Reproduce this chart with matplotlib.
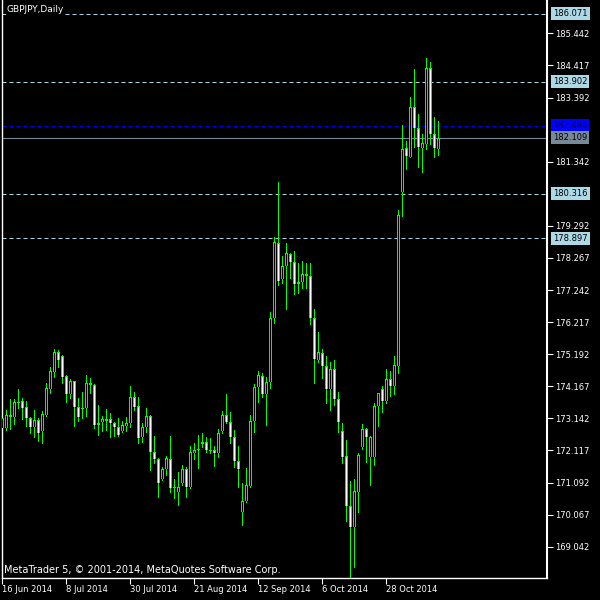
import matplotlib
matplotlib.use('Agg')
import matplotlib.pyplot as plt
import pandas as pd

# GBPJPY daily bars
opens = [172.83, 172.83, 173.25, 173.19, 173.66, 173.70, 173.50, 173.15, 172.87, 173.09,
         172.74, 173.25, 174.08, 174.62, 175.26, 175.13, 174.50, 173.92, 174.34, 173.50,
         173.47, 173.47, 174.27, 174.21, 172.93, 173.03, 173.12, 173.12, 172.99, 172.87,
         172.74, 172.90, 172.99, 173.82, 173.54, 172.55, 172.87, 173.22, 172.07, 171.84,
         171.20, 171.52, 171.84, 170.92, 170.79, 171.08, 171.52, 170.95, 172.04, 172.13,
         172.32, 172.39, 172.13, 172.13, 172.04, 172.74, 173.25, 173.03, 172.55, 171.78,
         170.15, 170.50, 170.98, 173.06, 174.14, 174.50, 173.92, 174.30, 176.35, 178.74,
         177.59, 178.01, 178.39, 178.14, 177.43, 177.50, 177.75, 177.69, 176.35, 175.01,
         175.23, 174.81, 174.08, 174.72, 173.76, 172.74, 171.94, 170.34, 169.67, 170.79,
         172.23, 172.80, 171.91, 171.91, 173.54, 174.08, 173.70, 174.40, 174.18, 174.81,
         180.37, 181.78, 181.49, 183.09, 182.42, 181.78, 181.91, 184.34, 182.23, 181.75]
highs = [173.28, 173.41, 173.76, 173.76, 174.08, 173.79, 173.70, 173.19, 173.41, 173.15,
         173.38, 174.27, 174.78, 175.36, 175.33, 175.17, 174.53, 174.40, 174.34, 173.79,
         173.98, 174.53, 174.43, 174.24, 173.57, 173.22, 173.44, 173.31, 173.03, 173.15,
         173.06, 173.19, 174.18, 173.98, 173.82, 172.99, 173.47, 173.25, 172.58, 171.88,
         171.59, 171.94, 172.58, 171.20, 171.43, 171.65, 171.59, 172.26, 172.35, 172.61,
         172.67, 172.55, 172.51, 172.26, 172.80, 173.38, 173.92, 173.35, 172.77, 172.26,
         171.08, 171.56, 173.25, 174.24, 174.66, 174.59, 174.46, 176.54, 178.94, 180.69,
         178.33, 178.74, 178.43, 178.49, 178.11, 178.17, 178.11, 178.11, 176.64, 175.90,
         175.36, 175.13, 174.94, 175.01, 173.98, 172.99, 172.45, 171.14, 171.20, 172.04,
         172.96, 172.83, 172.58, 173.63, 173.95, 174.18, 174.72, 174.66, 175.13, 179.80,
         182.51, 182.00, 183.41, 184.30, 182.87, 182.23, 184.66, 184.53, 182.77, 182.64]
lows = [172.74, 172.77, 172.80, 172.96, 173.47, 173.12, 172.90, 172.67, 172.55, 172.42,
        172.35, 173.22, 173.95, 174.46, 174.78, 174.27, 173.66, 173.79, 172.90, 173.06,
        173.15, 173.22, 173.95, 172.83, 172.61, 172.74, 172.77, 172.55, 172.58, 172.58,
        172.71, 172.74, 172.87, 173.41, 172.35, 172.39, 172.71, 171.49, 171.72, 170.63,
        171.17, 171.33, 170.79, 170.60, 170.37, 171.01, 170.63, 170.92, 171.84, 171.56,
        172.23, 172.07, 172.04, 171.62, 171.91, 172.67, 172.99, 172.35, 171.59, 170.95,
        169.73, 170.47, 170.95, 172.71, 173.66, 173.82, 172.93, 174.11, 176.19, 177.40,
        177.47, 176.64, 177.63, 177.12, 177.15, 177.31, 177.31, 176.16, 174.27, 174.94,
        174.43, 173.63, 173.41, 173.57, 172.71, 171.72, 169.86, 168.01, 168.39, 170.15,
        172.16, 171.75, 171.01, 171.65, 172.90, 173.35, 173.63, 173.86, 173.92, 174.59,
        179.61, 181.11, 181.49, 181.81, 181.17, 181.01, 181.75, 181.91, 181.49, 181.56]
closes = [173.15, 173.25, 173.19, 173.66, 173.63, 173.47, 173.15, 172.87, 173.09, 172.67,
          173.28, 174.11, 174.66, 175.26, 175.01, 174.46, 173.92, 174.34, 173.50, 173.19,
          173.44, 174.27, 174.21, 172.93, 172.99, 173.12, 173.06, 172.99, 172.87, 172.61,
          172.93, 172.99, 173.82, 173.50, 172.51, 172.87, 173.22, 172.07, 171.84, 171.08,
          171.52, 171.88, 170.92, 170.95, 170.95, 171.52, 170.95, 172.07, 172.13, 172.16,
          172.39, 172.13, 172.10, 172.04, 172.67, 173.25, 173.03, 172.55, 171.78, 171.52,
          170.50, 171.01, 173.06, 174.14, 174.53, 173.92, 174.30, 176.35, 178.78, 177.53,
          178.01, 178.43, 178.14, 177.43, 177.50, 177.75, 177.69, 176.35, 175.04, 175.26,
          174.81, 174.08, 174.72, 173.76, 173.03, 171.91, 170.34, 169.67, 170.82, 171.97,
          172.80, 172.55, 172.55, 173.54, 173.95, 173.70, 174.40, 174.18, 174.85, 179.64,
          181.75, 181.52, 183.09, 182.42, 181.81, 181.94, 184.34, 182.23, 181.78, 182.109]

level_prices = [186.071, 183.902, 180.316, 178.897]
ask_price = 182.484
bid_price = 182.109
price_ticks = [185.442, 184.417, 183.392, 181.342, 179.292, 178.267, 177.242, 176.217,
               175.192, 174.167, 173.142, 172.117, 171.092, 170.067, 169.042]
date_tick_step = 16

GREEN = '#00ff00'
LEVEL = '#add8e6'

dates = pd.bdate_range('2014-06-16', periods=len(opens))
xs = list(range(len(opens)))

fig = plt.figure(figsize=(6, 6), dpi=100, facecolor='black')
ax = fig.add_axes([2 / 600, 22 / 600, 545 / 600, 578 / 600])
ax.set_facecolor('black')
ax.set_xlim(-0.08, 136.17)
ax.set_ylim(168.041, 186.508)

# size of one screen pixel in price units, for the 1px candle outline
ymin, ymax = ax.get_ylim()
px = (ymax - ymin) / ax.get_window_extent().height

# level lines
for p in level_prices:
    ax.axhline(p, color=LEVEL, lw=0.72, ls=(0, (4, 3)), zorder=1)
ax.axhline(ask_price, color='#0000ff', lw=0.72, ls=(0, (4, 3)), zorder=1)
ax.axhline(bid_price, color='#778899', lw=0.8, zorder=1)

# candles: bull = black body, bear = white body, green outline
ax.vlines(xs, lows, highs, color=GREEN, lw=0.72, zorder=2, antialiased=False)
body_lo = [min(o, c) for o, c in zip(opens, closes)]
body_hi = [max(o, c) for o, c in zip(opens, closes)]
heights = [max(h - l, px) for l, h in zip(body_lo, body_hi)]
ax.bar(xs, heights, bottom=body_lo, width=0.75, color=GREEN, linewidth=0,
       zorder=3, antialiased=False)
inner = [i for i in xs if body_hi[i] - body_lo[i] > 2.5 * px]
ax.vlines(inner, [body_lo[i] + px for i in inner], [body_hi[i] - px for i in inner],
          colors=['black' if closes[i] >= opens[i] else 'white' for i in inner],
          lw=0.72, zorder=4, antialiased=False)

# axes styling
for side in ['left', 'bottom']:
    ax.spines[side].set_color('white')
    ax.spines[side].set_linewidth(1)
ax.spines['right'].set_color('white')
ax.spines['right'].set_linewidth(1.5)
ax.spines['top'].set_visible(False)

ax.yaxis.tick_right()
ax.set_yticks(price_ticks)
ax.set_yticklabels([f'{p:.3f}' for p in price_ticks])
ax.tick_params(axis='y', colors='white', direction='out', length=4, width=0.8,
               labelsize=6, pad=2)

tick_idx = xs[::date_tick_step]
ax.set_xticks(tick_idx)
ax.set_xticklabels([f"{dates[i].day} {dates[i].strftime('%b %Y')}" for i in tick_idx])
for lbl in ax.get_xticklabels():
    lbl.set_horizontalalignment('left')
ax.tick_params(axis='x', colors='white', direction='out', length=4, width=0.8,
               labelsize=6, pad=1)

# price boxes on the right
for p in level_prices:
    ax.annotate(f'{p:.3f}', xy=(1, p), xycoords=('axes fraction', 'data'),
                xytext=(6, 0), textcoords='offset pixels', ha='left', va='center',
                fontsize=6, color='black', annotation_clip=False,
                bbox=dict(boxstyle='square,pad=0.25', fc=LEVEL, ec='none'))
ax.annotate(f'{ask_price:.3f}', xy=(1, ask_price), xycoords=('axes fraction', 'data'),
            xytext=(6, 0), textcoords='offset pixels', ha='left', va='center',
            fontsize=6, color='#000060', annotation_clip=False,
            bbox=dict(boxstyle='square,pad=0.25', fc='#0000ff', ec='none'))
ax.annotate(f'{bid_price:.3f}', xy=(1, bid_price), xycoords=('axes fraction', 'data'),
            xytext=(6, 0), textcoords='offset pixels', ha='left', va='center',
            fontsize=6, color='black', annotation_clip=False,
            bbox=dict(boxstyle='square,pad=0.25', fc='#778899', ec='none'))

ax.text(0.009, 0.991, 'GBPJPY,Daily', transform=ax.transAxes, color='white',
        fontsize=6.5, ha='left', va='top', zorder=5,
        bbox=dict(boxstyle='square,pad=0.1', fc='black', ec='none'))
ax.text(0.004, 0.006, 'MetaTrader 5, © 2001-2014, MetaQuotes Software Corp.',
        transform=ax.transAxes, color='white', fontsize=7, ha='left', va='bottom', zorder=5)

fig.savefig('out.png', dpi=100, facecolor='black')
